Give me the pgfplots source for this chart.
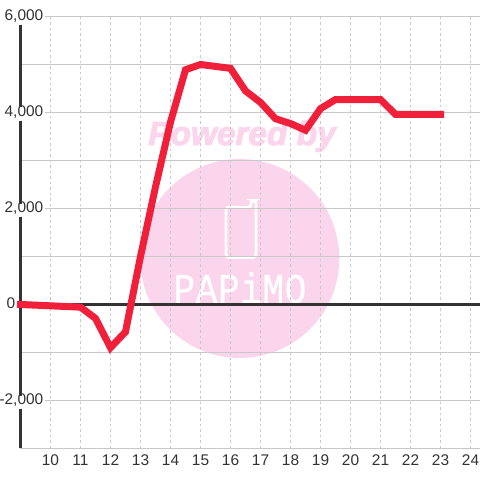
\documentclass[border=0pt]{standalone}
\usepackage{pgfplots}
\usepackage{fontspec}
\setmainfont{Liberation Sans}
\newfontfamily\thinfont[LetterSpace=2,FakeBold=0.6]{Liberation Mono}
\newfontfamily\wmfont[FakeBold=3]{Liberation Sans}
\pgfplotsset{compat=1.18}
\definecolor{wm}{HTML}{FBD5EC}
\definecolor{gridc}{HTML}{C8C8C8}
\definecolor{dark}{HTML}{333333}
\definecolor{redl}{HTML}{F0203A}
\begin{document}
\begin{tikzpicture}[x=1bp,y=1bp]
\path[use as bounding box] (0,0) rectangle (480,480);
% watermark (py -> 480-py)
\fill[wm] (239.8,221.5) circle (99.5);
\node[text=wm,inner sep=0pt,anchor=base] at (242,335) {\fontsize{33.5}{33.5}\selectfont\wmfont\bfseries\itshape Powered by};
\draw[white,line width=2.7,rounded corners=3] (226,273) -- (226,222.5) -- (256,222.5) -- (256,279.5) -- (251,279.5) -- (251,272.5) -- cycle;
\node[text=white,inner sep=0pt,anchor=base,yscale=1.18] at (240,177) {\fontsize{36}{36}\selectfont\thinfont PAPiMO};
\begin{axis}[
  at={(20.5bp,31.5bp)},anchor=south west,
  scale only axis,width=459.5bp,height=432bp,
  xmin=9,xmax=24.3167,ymin=-3000,ymax=6000,
  clip=false,
  axis line style={draw=none},
  tick style={draw=none},
  minor tick style={draw=none},
  xtick={10,...,24},
  ytick={-2000,2000,4000,6000},
  yticklabels={{-2,000},{2,000},{4,000},{6,000}},
  minor ytick={-3000,-1000,0,1000,3000,5000},
  extra y ticks={0},
  extra y tick labels={0},
  extra y tick style={grid=none,
    tick label style={xshift=-28bp,fill=none}},
  grid=both,
  /pgf/number format/assume math mode=true,
  x grid style={gridc,line width=0.9bp,dash pattern=on 2.5bp off 3bp},
  y grid style={gridc,line width=1bp},
  minor grid style={gridc,line width=1bp},
  tick label style={font=\fontsize{15.5}{15.5}\selectfont,text=dark},
  xticklabel style={inner sep=0pt,anchor=center,yshift=-12bp,fill=none},
  yticklabel style={anchor=east,xshift=24.5bp,fill=white,inner xsep=1.5bp,inner ysep=1bp,text height=11bp,text depth=2bp},
]
\draw[dark,line width=3bp] (axis cs:9,5833) -- (axis cs:9,4104);
\draw[dark,line width=3bp] (axis cs:9,3833) -- (axis cs:9,2104);
\draw[dark,line width=3bp] (axis cs:9,1833) -- (axis cs:9,-1896);
\draw[dark,line width=3bp] (axis cs:9,-2167) -- (axis cs:9,-3000);
\draw[dark,line width=3bp] (axis cs:9,0) -- (axis cs:24.3167,0);
\addplot[redl,line width=7bp,line cap=rect,line join=miter,miter limit=4] coordinates {
(9,0)(11,-55)(11.5,-290)(12,-900)(12.5,-570)(13,1000)(13.5,2450)(14,3800)(14.5,4890)(15,5000)(16,4920)(16.5,4450)(17,4210)(17.5,3870)(18,3770)(18.5,3630)(19,4080)(19.5,4270)(20,4270)(21,4270)(21.5,3960)(22,3960)(23,3960)};
\end{axis}
\end{tikzpicture}
\end{document}
